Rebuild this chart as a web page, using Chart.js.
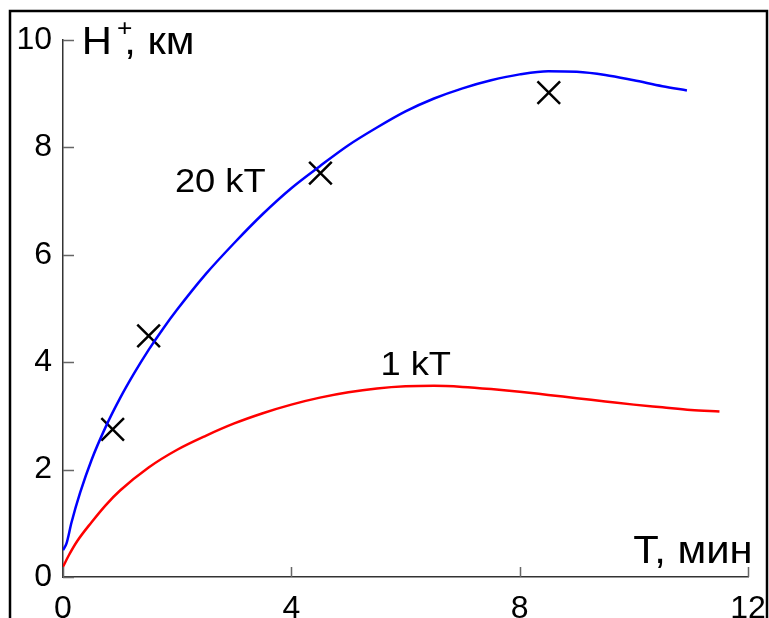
<!DOCTYPE html>
<html>
<head>
<meta charset="utf-8">
<title>H+ vs T</title>
<script src="https://cdn.jsdelivr.net/npm/chart.js@4.4.1/dist/chart.umd.min.js"></script>
<style>
  html, body { margin: 0; padding: 0; background: #fff; }
  #wrap { width: 769px; height: 618px; position: relative; }
</style>
</head>
<body>
<div id="wrap"><canvas id="chartHeight"></canvas></div>
<script>
'use strict';

// 20 kT curve (blue)
var bigT = [0, 0.06, 0.15, 0.3, 0.5, 0.75, 1.0, 1.25, 1.5, 1.75, 2.0, 2.5, 3.0, 3.5, 4.0, 4.5, 5.0, 5.5, 6.0, 6.5, 7.0, 7.5, 8.0, 8.5, 9.0, 9.5, 10.0, 10.5, 10.93];
var bigH = [0.50, 0.62, 1.02, 1.57, 2.18, 2.80, 3.33, 3.80, 4.23, 4.62, 4.98, 5.64, 6.22, 6.76, 7.24, 7.65, 8.04, 8.37, 8.67, 8.91, 9.10, 9.25, 9.36, 9.42, 9.41, 9.35, 9.25, 9.14, 9.06];

// 1 kT curve (red)
var smallT = [0, 0.1, 0.25, 0.5, 0.75, 1.0, 1.5, 2.0, 2.5, 3.0, 3.5, 4.0, 4.5, 5.0, 5.5, 6.0, 6.5, 7.0, 7.5, 8.0, 8.5, 9.0, 9.5, 10.0, 10.5, 11.0, 11.5];
var smallH = [0.19, 0.40, 0.67, 1.02, 1.34, 1.61, 2.04, 2.37, 2.63, 2.86, 3.05, 3.21, 3.34, 3.44, 3.51, 3.55, 3.56, 3.54, 3.50, 3.45, 3.39, 3.33, 3.27, 3.21, 3.16, 3.11, 3.08];

// measured points (crosses)
var obsT = [0.87, 1.50, 4.51, 8.51];
var obsH = [2.75, 4.49, 7.52, 9.02];

var xTicks = [0, 4, 8, 12];
var yTicks = [0, 2, 4, 6, 8, 10];

var FONT = '"Liberation Sans", Arial, sans-serif';
var STRETCH = 1.1;

function toPoints(xs, ys) {
  return xs.map(function (x, i) { return { x: x, y: ys[i] }; });
}

// text a bit wider than the font, like the original figure
function wideText(ctx, str, x, y, align) {
  var w = ctx.measureText(str).width * STRETCH;
  var left = align === 'right' ? x - w : x;
  ctx.save();
  ctx.translate(left, y);
  ctx.scale(STRETCH, 1);
  ctx.textAlign = 'left';
  ctx.fillText(str, 0, 0);
  ctx.restore();
  return w;
}

var decor = {
  id: 'decor',
  afterDraw: function (chart) {
    var ctx = chart.ctx;
    var xs = chart.scales.x;
    var ys = chart.scales.y;
    var x0 = xs.getPixelForValue(0);
    var y0 = ys.getPixelForValue(0);

    ctx.save();
    // inward tick marks
    ctx.strokeStyle = '#666';
    ctx.lineWidth = 1.5;
    ctx.beginPath();
    yTicks.forEach(function (v) {
      var py = Math.round(ys.getPixelForValue(v)) + 0.5;
      ctx.moveTo(x0, py);
      ctx.lineTo(x0 + 11, py);
    });
    xTicks.forEach(function (v) {
      var px = Math.round(xs.getPixelForValue(v)) + 0.5;
      ctx.moveTo(px, y0);
      ctx.lineTo(px, y0 - 10);
    });
    ctx.stroke();

    // labels
    ctx.fillStyle = '#000';
    ctx.textBaseline = 'alphabetic';

    var hx = xs.getPixelForValue(0.33);
    var hy = ys.getPixelForValue(9.74);
    ctx.font = '38px ' + FONT;
    var hw = wideText(ctx, 'H', hx, hy, 'left');
    ctx.font = '24px ' + FONT;
    var pw = wideText(ctx, '+', hx + hw + 5, hy - 18, 'left');
    ctx.font = '38px ' + FONT;
    wideText(ctx, ', км', hx + hw + 3 + pw * 0.6, hy, 'left');

    wideText(ctx, 'T, мин', xs.getPixelForValue(12.08), ys.getPixelForValue(0.26), 'right');

    ctx.font = '33px ' + FONT;
    wideText(ctx, '20 kT', xs.getPixelForValue(1.96), ys.getPixelForValue(7.17), 'left');
    wideText(ctx, '1 kT', xs.getPixelForValue(5.56), ys.getPixelForValue(3.77), 'left');

    // outer frame
    ctx.strokeStyle = '#000';
    ctx.lineWidth = 2.5;
    ctx.strokeRect(10, 11, 757, 700);
    ctx.restore();
  }
};

var canvas = document.getElementById('chartHeight');

new Chart(canvas.getContext('2d'), {
  type: 'line',
  data: {
    datasets: [{
      label: '20 kT',
      data: toPoints(bigT, bigH),
      borderColor: '#0000ff',
      borderWidth: 2.5,
      pointRadius: 0,
      cubicInterpolationMode: 'monotone',
      fill: false
    }, {
      label: '1 kT',
      data: toPoints(smallT, smallH),
      borderColor: '#ff0000',
      borderWidth: 2.5,
      pointRadius: 0,
      cubicInterpolationMode: 'monotone',
      fill: false
    }, {
      label: 'measured',
      data: toPoints(obsT, obsH),
      showLine: false,
      pointStyle: 'crossRot',
      pointRadius: 16,
      borderColor: '#000',
      borderWidth: 2.5
    }]
  },
  options: {
    animation: false,
    responsive: true,
    maintainAspectRatio: false,
    layout: { padding: { left: 10, top: 40, right: 21, bottom: 0 } },
    scales: {
      x: {
        type: 'linear',
        min: 0,
        max: 12,
        afterBuildTicks: function (scale) {
          scale.ticks = xTicks.map(function (v) { return { value: v }; });
        },
        afterFit: function (scale) {
          scale.height = 41;
          scale.paddingLeft = 0;
          scale.paddingRight = 0;
        },
        grid: { display: false, drawTicks: false },
        border: { display: true, color: '#333', width: 1.5 },
        ticks: {
          color: '#000',
          padding: 13,
          font: { family: FONT, size: 32 }
        }
      },
      y: {
        type: 'linear',
        min: 0,
        max: 10,
        afterBuildTicks: function (scale) {
          scale.ticks = yTicks.map(function (v) { return { value: v }; });
        },
        afterFit: function (scale) {
          scale.width = 53;
          scale.paddingTop = 0;
          scale.paddingBottom = 0;
        },
        grid: { display: false, drawTicks: false },
        border: { display: true, color: '#333', width: 1.5 },
        ticks: {
          color: '#000',
          padding: 11,
          font: { family: FONT, size: 32 }
        }
      }
    },
    plugins: {
      legend: { display: false },
      tooltip: { enabled: false }
    }
  },
  plugins: [decor]
});
</script>
</body>
</html>
